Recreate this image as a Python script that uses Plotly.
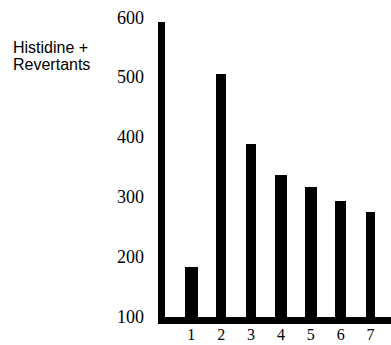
import plotly.graph_objects as go

# Revertant counts per plate (plate 0 is the unlabeled first column)
plates = [0, 1, 2, 3, 4, 5, 6, 7]
plate_labels = ["", "1", "2", "3", "4", "5", "6", "7"]
revertants = [592, 184, 505, 388, 337, 316, 294, 275]
y_ticks = [100, 200, 300, 400, 500, 600]

W, H = 391, 345
L, R, T, B = 158, 0, 16, 28
plot_w = W - L - R
plot_h = H - T - B

# column widths in axis units
bar_widths = [0.23, 0.42, 0.35, 0.35, 0.39, 0.41, 0.36, 0.33]

fig = go.Figure(
    go.Bar(
        x=plates,
        y=revertants,
        width=bar_widths,
        marker=dict(color="black", line=dict(width=0)),
        hoverinfo="skip",
    )
)

serif = "Liberation Serif, Times New Roman, serif"
sans = "Liberation Sans, Arial, sans-serif"


def px_x(p):
    return (p - L) / plot_w


def px_y(p):
    return (H - B - p) / plot_h


fig.update_layout(
    width=W,
    height=H,
    margin=dict(l=L, r=R, t=T, b=B, pad=0),
    paper_bgcolor="white",
    plot_bgcolor="white",
    showlegend=False,
    bargap=0,
    xaxis=dict(
        range=[-0.117, 7.686],
        tickmode="array",
        tickvals=plates[1:],
        ticktext=plate_labels[1:],
        showgrid=False,
        zeroline=False,
        showline=True,
        linewidth=7,
        linecolor="black",
        ticks="",
        ticklabelstandoff=-3,
        tickfont=dict(family=serif, size=16, color="black"),
        automargin=False,
    ),
    yaxis=dict(
        range=[100, 602],
        tickmode="array",
        tickvals=y_ticks,
        ticktext=[str(v) for v in y_ticks],
        showgrid=False,
        zeroline=False,
        showline=False,
        ticks="",
        ticklabelstandoff=13,
        tickfont=dict(family=serif, size=18, color="black"),
        automargin=False,
    ),
    annotations=[
        dict(
            text="Histidine +",
            xref="paper", yref="paper",
            x=px_x(11), y=px_y(47),
            xanchor="left", yanchor="middle",
            showarrow=False,
            font=dict(family=sans, size=16, color="black"),
        ),
        dict(
            text="Revertants",
            xref="paper", yref="paper",
            x=px_x(11), y=px_y(64),
            xanchor="left", yanchor="middle",
            showarrow=False,
            font=dict(family=sans, size=16, color="black"),
        ),
    ],
)

fig.write_html("out.html")
